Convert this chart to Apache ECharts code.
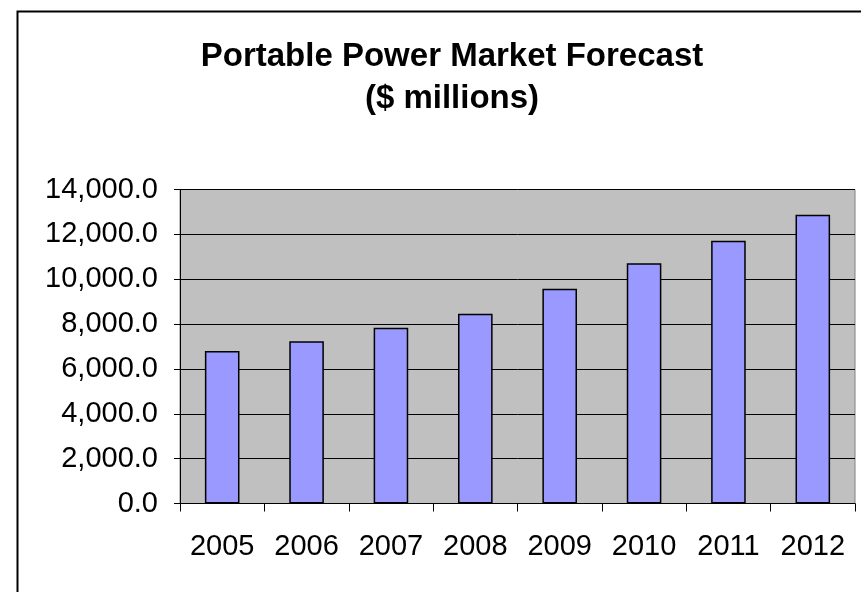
<!DOCTYPE html>
<html lang="en">
<head>
    <meta charset="UTF-8">
    <title>Portable Power Market Forecast</title>
    <script src="https://cdn.jsdelivr.net/npm/echarts@6/dist/echarts.min.js"></script>
    <style>
        html, body { margin: 0; padding: 0; background: #fff; }
        #main { width: 861px; height: 592px; }
    </style>
</head>
<body>
    <div id="main"></div>
    <script type="text/javascript">
    // data
    var years = ['2005', '2006', '2007', '2008', '2009', '2010', '2011', '2012'];
    var market = [6800, 7230, 7840, 8460, 9580, 10710, 11720, 12870];

    var myChart = echarts.init(document.getElementById('main'));

    var option = {
        backgroundColor: '#fff',
        textStyle: { fontFamily: 'Liberation Sans, Arial, sans-serif' },
        title: {
            text: 'Portable Power Market Forecast\n($ millions)',
            left: 447,
            top: 31,
            textAlign: 'center',
            textStyle: {
                fontSize: 33,
                fontWeight: 'bold',
                color: '#000',
                lineHeight: 42
            }
        },
        graphic: [{
            type: 'rect',
            left: 15,
            top: 9,
            shape: { width: 900, height: 700 },
            style: { fill: 'none', stroke: '#000', lineWidth: 2 },
            silent: true
        }],
        grid: {
            left: 180,
            top: 189.5,
            right: 6,
            bottom: 88.5,
            show: true,
            backgroundColor: '#c0c0c0',
            borderColor: '#808080',
            borderWidth: 1
        },
        xAxis: {
            type: 'category',
            data: years,
            axisLine: { lineStyle: { color: '#000', width: 1 } },
            axisTick: { show: true, length: 8, lineStyle: { color: '#000' } },
            axisLabel: { color: '#000', fontSize: 29, margin: 29 },
            splitLine: { show: false }
        },
        yAxis: {
            type: 'value',
            min: 0,
            max: 14000,
            interval: 2000,
            axisLine: { show: true, lineStyle: { color: '#000', width: 1 } },
            axisTick: { show: true, length: 6, lineStyle: { color: '#000' } },
            axisLabel: {
                color: '#000',
                fontSize: 29,
                margin: 22,
                formatter: function (v) {
                    return v.toLocaleString('en-US', { minimumFractionDigits: 1, maximumFractionDigits: 1 });
                }
            },
            splitLine: { show: true, lineStyle: { color: '#000', width: 1 } }
        },
        series: [{
            type: 'bar',
            data: market,
            barWidth: '41%',
            itemStyle: {
                color: '#9999ff',
                borderColor: '#000',
                borderWidth: 1.5
            },
            animation: false
        }],
        animation: false
    };

    myChart.setOption(option, true);
    </script>
</body>
</html>
